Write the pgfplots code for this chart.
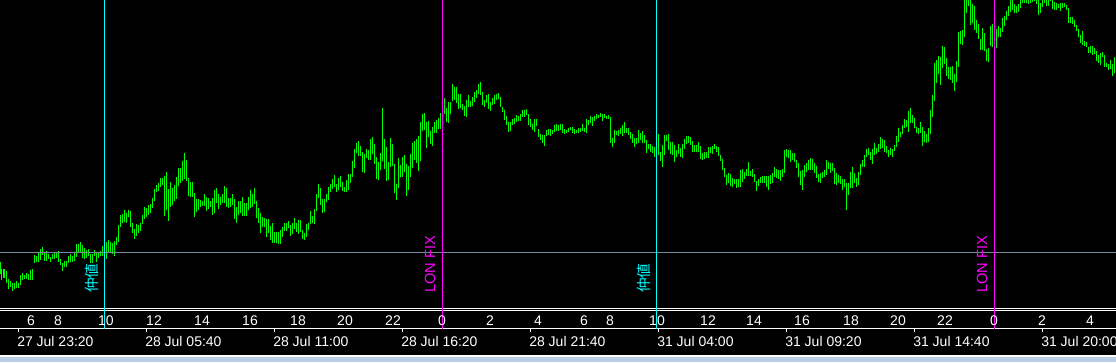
\documentclass[border=0pt]{standalone}
\usepackage{pgfplots}
\pgfplotsset{compat=1.18}
\usepackage{pgfplotstable}
\usepackage{fontspec}
\setmainfont{Liberation Sans}
\newfontfamily\cjk{Noto Sans CJK JP}
\definecolor{bargreen}{RGB}{0,255,0}
\definecolor{gridgray}{RGB}{119,136,153}
\definecolor{stripblue}{RGB}{185,205,229}
\definecolor{vcyan}{RGB}{0,255,255}
\definecolor{vmag}{RGB}{255,0,255}
\tikzset{lbl/.style={inner sep=0pt, text=white, font=\fontsize{10.5}{12}\selectfont}}

% bars: x pixel, top (high) pixel, bottom (low) pixel
\pgfplotstableread{
x t b
0 262 274
2 269 280
4 269 278
6 271 283
8 279 289
10 281 287
12 283 291
14 283 289
16 281 288
18 283 288
20 275 285
22 273 280
24 275 279
26 273 279
28 274 280
30 270 280
32 269 280
34 255 263
36 256 262
38 253 262
40 249 260
42 247 255
44 252 261
46 251 261
48 254 259
50 257 262
52 254 259
54 253 259
56 253 258
58 251 262
60 259 265
62 263 271
64 261 267
66 261 267
68 256 263
70 254 262
72 256 262
74 253 261
76 244 257
78 244 253
80 242 253
82 245 258
84 248 259
86 250 258
88 249 256
90 254 263
92 254 263
94 250 256
96 252 262
98 253 258
100 251 256
102 246 256
104 243 254
106 242 259
108 240 253
110 242 253
112 243 254
114 241 256
116 237 245
118 225 242
120 215 227
122 214 223
124 210 222
126 213 223
128 210 217
130 211 227
132 223 233
134 229 239
136 224 236
138 225 233
140 223 231
142 215 224
144 207 219
146 208 217
148 205 215
150 204 213
152 198 208
154 189 201
156 185 192
158 183 191
160 178 187
162 178 185
164 176 216
166 172 210
168 189 221
170 182 207
172 188 205
174 185 201
176 177 199
178 168 186
180 168 183
182 161 181
184 153 179
186 160 181
188 178 196
190 182 197
192 182 197
194 193 217
196 199 212
198 199 210
200 200 207
202 201 206
204 194 206
206 197 211
208 198 209
210 201 207
212 198 215
214 190 213
216 188 203
218 194 209
220 197 205
222 194 203
224 186 203
226 188 207
228 198 208
230 198 207
232 194 205
234 199 219
236 207 223
238 201 215
240 201 213
242 197 216
244 203 216
246 203 216
248 197 210
250 190 208
252 194 207
254 188 204
256 201 218
258 208 223
260 213 233
262 217 227
264 218 227
266 219 237
268 219 233
270 226 240
272 223 243
274 232 243
276 232 243
278 232 244
280 230 244
282 227 237
284 223 231
286 223 231
288 221 228
290 225 236
292 223 234
294 218 229
296 223 232
298 220 234
300 220 232
302 230 239
304 233 240
306 224 237
308 223 230
310 211 224
312 216 223
314 209 224
316 194 211
318 184 198
320 188 205
322 199 213
324 199 212
326 194 202
328 187 200
330 184 192
332 179 189
334 175 187
336 184 192
338 178 190
340 176 187
342 182 191
344 187 192
346 180 192
348 174 190
350 174 183
352 161 177
354 149 168
356 143 153
358 141 156
360 146 156
362 152 172
364 154 173
366 149 158
368 150 160
370 139 160
372 137 154
374 144 164
376 157 179
378 162 180
380 153 170
382 108 161
384 139 169
386 147 181
388 162 180
390 138 167
392 144 166
394 164 193
396 184 200
398 158 188
400 165 177
402 157 177
404 155 172
406 164 196
408 166 190
410 154 177
412 143 168
414 141 160
416 139 163
418 136 171
420 122 161
422 114 131
424 113 130
426 122 148
428 121 137
430 131 144
432 127 146
434 122 133
436 120 133
438 118 129
440 113 129
442 106 120
444 98 114
446 108 122
448 102 123
450 102 114
452 84 101
454 87 100
456 87 103
458 94 109
460 94 108
462 104 110
464 106 116
466 100 117
468 95 107
470 101 107
472 97 106
474 92 102
476 90 98
478 84 94
480 82 95
482 92 105
484 100 107
486 95 103
488 94 109
490 102 111
492 98 105
494 95 104
496 94 100
498 93 99
500 97 107
502 107 112
504 110 120
506 116 125
508 122 132
510 122 131
512 119 125
514 118 124
516 115 122
518 116 121
520 114 121
522 110 117
524 110 117
526 109 115
528 114 125
530 119 127
532 124 130
534 119 132
536 119 126
538 129 137
540 134 140
542 135 143
544 135 146
546 130 136
548 129 135
550 129 136
552 130 134
554 125 132
556 124 131
558 125 131
560 124 130
562 124 133
564 129 134
566 130 133
568 128 132
570 127 130
572 127 133
574 129 134
576 130 133
578 128 133
580 128 132
582 124 131
584 128 132
586 119 133
588 120 125
590 116 123
592 117 126
594 116 121
596 114 119
598 115 118
600 113 117
602 114 121
604 114 118
606 116 119
608 115 119
610 117 143
612 138 147
614 130 143
616 131 135
618 130 136
620 128 134
622 125 136
624 122 133
626 128 133
628 128 135
630 132 139
632 134 143
634 138 147
636 138 144
638 130 143
640 133 140
642 131 143
644 135 143
646 140 153
648 144 149
650 144 152
652 146 153
654 147 157
656 133 158
658 134 155
660 152 161
662 145 167
664 135 155
666 135 141
668 134 150
670 142 154
672 142 155
674 145 162
676 150 157
678 144 154
680 148 157
682 144 158
684 139 149
686 136 144
688 136 143
690 137 145
692 141 152
694 145 152
696 145 152
698 142 152
700 146 159
702 153 160
704 152 159
706 152 158
708 147 158
710 147 153
712 146 154
714 144 149
716 146 152
718 147 156
720 155 161
722 159 170
724 168 177
726 175 185
728 173 183
730 174 186
732 178 187
734 179 184
736 179 188
738 179 187
740 170 187
742 169 182
744 172 179
746 169 176
748 162 176
750 171 176
752 169 177
754 174 182
756 181 191
758 179 186
760 177 183
762 176 183
764 176 183
766 176 187
768 176 190
770 175 184
772 173 183
774 167 177
776 169 178
778 170 179
780 170 181
782 169 177
784 150 173
786 149 157
788 150 158
790 150 162
792 153 160
794 153 162
796 160 168
798 163 177
800 171 185
802 170 190
804 165 177
806 163 172
808 160 170
810 158 170
812 159 170
814 163 173
816 166 178
818 174 182
820 173 183
822 172 178
824 170 177
826 160 175
828 162 169
830 163 173
832 163 171
834 168 184
836 173 185
838 175 183
840 176 184
842 179 190
844 179 187
846 183 210
848 183 195
850 172 188
852 167 188
854 173 183
856 178 187
858 172 185
860 164 175
862 160 167
864 155 167
866 149 157
868 148 155
870 152 160
872 149 164
874 143 155
876 148 154
878 144 152
880 137 149
882 139 148
884 140 152
886 146 153
888 150 157
890 148 155
892 149 157
894 145 151
896 136 147
898 128 142
900 132 137
902 125 134
904 119 128
906 120 127
908 111 132
910 108 123
912 115 123
914 118 128
916 127 133
918 128 134
920 122 133
922 127 146
924 131 142
926 134 143
928 128 142
930 110 134
932 95 117
934 63 101
936 60 83
938 56 74
940 57 85
942 46 68
944 47 64
946 58 76
948 67 79
950 67 80
952 66 83
954 74 91
956 61 82
958 32 67
960 31 44
962 30 45
964 -3 37
966 -5 13
968 -4 6
970 -2 25
972 4 23
974 6 30
976 20 33
978 24 39
980 39 50
982 28 50
984 33 51
986 49 61
988 48 62
990 26 46
992 24 47
994 40 49
996 29 48
998 26 37
1000 28 37
1002 18 32
1004 16 26
1006 11 20
1008 6 16
1010 -1 12
1012 -2 10
1014 4 13
1016 6 13
1018 4 12
1020 -1 8
1022 -3 3
1024 -2 3
1026 -2 3
1028 -1 4
1030 -2 3
1032 -2 2
1034 -4 1
1036 -1 4
1038 -2 15
1040 3 13
1042 -1 7
1044 -3 3
1046 -1 6
1048 -1 6
1050 -4 1
1052 -1 9
1054 2 10
1056 3 10
1058 4 8
1060 3 11
1062 3 8
1064 3 7
1066 5 10
1068 8 23
1070 17 23
1072 17 24
1074 20 27
1076 25 31
1078 29 37
1080 35 43
1082 31 45
1084 41 46
1086 42 47
1088 47 53
1090 46 53
1092 46 55
1094 48 54
1096 51 61
1098 55 63
1100 53 65
1102 52 57
1104 55 67
1106 63 67
1108 64 70
1110 60 69
1112 64 76
1114 57 73
}\bars

\begin{document}
\begin{tikzpicture}
\begin{axis}[
  scale only axis, width=837pt, height=271.5pt,
  xmin=0, xmax=1116, ymin=0, ymax=362, y dir=reverse,
  axis line style={draw=none}, xtick=\empty, ytick=\empty,
  axis background/.style={fill=black},
]
\addplot[draw=none, mark=none, forget plot,
  error bars/.cd, y dir=both, y explicit, error mark=none,
  error bar style={draw=bargreen, line width=0.75pt}]
  table[x=x, y expr={(\thisrow{t}+\thisrow{b})/2},
        y error expr={(\thisrow{b}-\thisrow{t})/2}] {\bars};

% horizontal level line
\draw[gridgray, line width=0.75pt] (axis cs:0,252.5) -- (axis cs:1116,252.5);

% time scale frame
\draw[white, line width=0.75pt] (axis cs:0,308.7) -- (axis cs:1116,308.7);
\draw[white, line width=0.75pt] (axis cs:0,310.7) -- (axis cs:1116,310.7);
\draw[white, line width=0.75pt] (axis cs:0,328.7) -- (axis cs:1116,328.7);
\draw[white, line width=0.75pt] (axis cs:18.5,328.7) -- (axis cs:18.5,332);
\draw[white, line width=0.75pt] (axis cs:146.5,328.7) -- (axis cs:146.5,332);
\draw[white, line width=0.75pt] (axis cs:274.5,328.7) -- (axis cs:274.5,332);
\draw[white, line width=0.75pt] (axis cs:402.5,328.7) -- (axis cs:402.5,332);
\draw[white, line width=0.75pt] (axis cs:530.5,328.7) -- (axis cs:530.5,332);
\draw[white, line width=0.75pt] (axis cs:658.5,328.7) -- (axis cs:658.5,332);
\draw[white, line width=0.75pt] (axis cs:786.5,328.7) -- (axis cs:786.5,332);
\draw[white, line width=0.75pt] (axis cs:914.5,328.7) -- (axis cs:914.5,332);
\draw[white, line width=0.75pt] (axis cs:1042.5,328.7) -- (axis cs:1042.5,332);
\fill[white] (axis cs:0,355.3) rectangle (axis cs:1116,357.3);
\fill[stripblue] (axis cs:0,357.3) rectangle (axis cs:1116,362);

% vertical event lines
\draw[vcyan, line width=0.75pt] (axis cs:104.5,0) -- (axis cs:104.5,328.5);
\draw[vmag, line width=0.75pt] (axis cs:442.5,0) -- (axis cs:442.5,328.5);
\draw[vcyan, line width=0.75pt] (axis cs:656.5,0) -- (axis cs:656.5,328.5);
\draw[vmag, line width=0.75pt] (axis cs:994.5,0) -- (axis cs:994.5,328.5);

\node[rotate=90, anchor=west, inner sep=0pt, text=vcyan, font={\cjk\fontsize{11}{13}\selectfont}] at (axis cs:91.5,293) {仲値};
\node[rotate=90, anchor=west, inner sep=0pt, text=vcyan, font={\cjk\fontsize{11}{13}\selectfont}] at (axis cs:643.5,293) {仲値};
\node[rotate=90, anchor=west, inner sep=0pt, text=vmag, font={\fontsize{11}{13}\selectfont}] at (axis cs:430,293) {LON FIX};
\node[rotate=90, anchor=west, inner sep=0pt, text=vmag, font={\fontsize{11}{13}\selectfont}] at (axis cs:982,293) {LON FIX};

% hour labels
\node[lbl] at (axis cs:31,321) {6};
\node[lbl] at (axis cs:58,321) {8};
\node[lbl] at (axis cs:106,321) {10};
\node[lbl] at (axis cs:154,321) {12};
\node[lbl] at (axis cs:202,321) {14};
\node[lbl] at (axis cs:250,321) {16};
\node[lbl] at (axis cs:298,321) {18};
\node[lbl] at (axis cs:345,321) {20};
\node[lbl] at (axis cs:393,321) {22};
\node[lbl] at (axis cs:442,321) {0};
\node[lbl] at (axis cs:490,321) {2};
\node[lbl] at (axis cs:538,321) {4};
\node[lbl] at (axis cs:584,321) {6};
\node[lbl] at (axis cs:610,321) {8};
\node[lbl] at (axis cs:657,321) {10};
\node[lbl] at (axis cs:708,321) {12};
\node[lbl] at (axis cs:754,321) {14};
\node[lbl] at (axis cs:802,321) {16};
\node[lbl] at (axis cs:851,321) {18};
\node[lbl] at (axis cs:898,321) {20};
\node[lbl] at (axis cs:945,321) {22};
\node[lbl] at (axis cs:994,321) {0};
\node[lbl] at (axis cs:1042,321) {2};
\node[lbl] at (axis cs:1090,321) {4};

% date labels
\node[lbl, anchor=west] at (axis cs:17,341) {27 Jul 23:20};
\node[lbl, anchor=west] at (axis cs:145,341) {28 Jul 05:40};
\node[lbl, anchor=west] at (axis cs:273,341) {28 Jul 11:00};
\node[lbl, anchor=west] at (axis cs:401,341) {28 Jul 16:20};
\node[lbl, anchor=west] at (axis cs:529,341) {28 Jul 21:40};
\node[lbl, anchor=west] at (axis cs:657,341) {31 Jul 04:00};
\node[lbl, anchor=west] at (axis cs:785,341) {31 Jul 09:20};
\node[lbl, anchor=west] at (axis cs:913,341) {31 Jul 14:40};
\node[lbl, anchor=west] at (axis cs:1041,341) {31 Jul 20:00};
\end{axis}
\end{tikzpicture}
\end{document}
